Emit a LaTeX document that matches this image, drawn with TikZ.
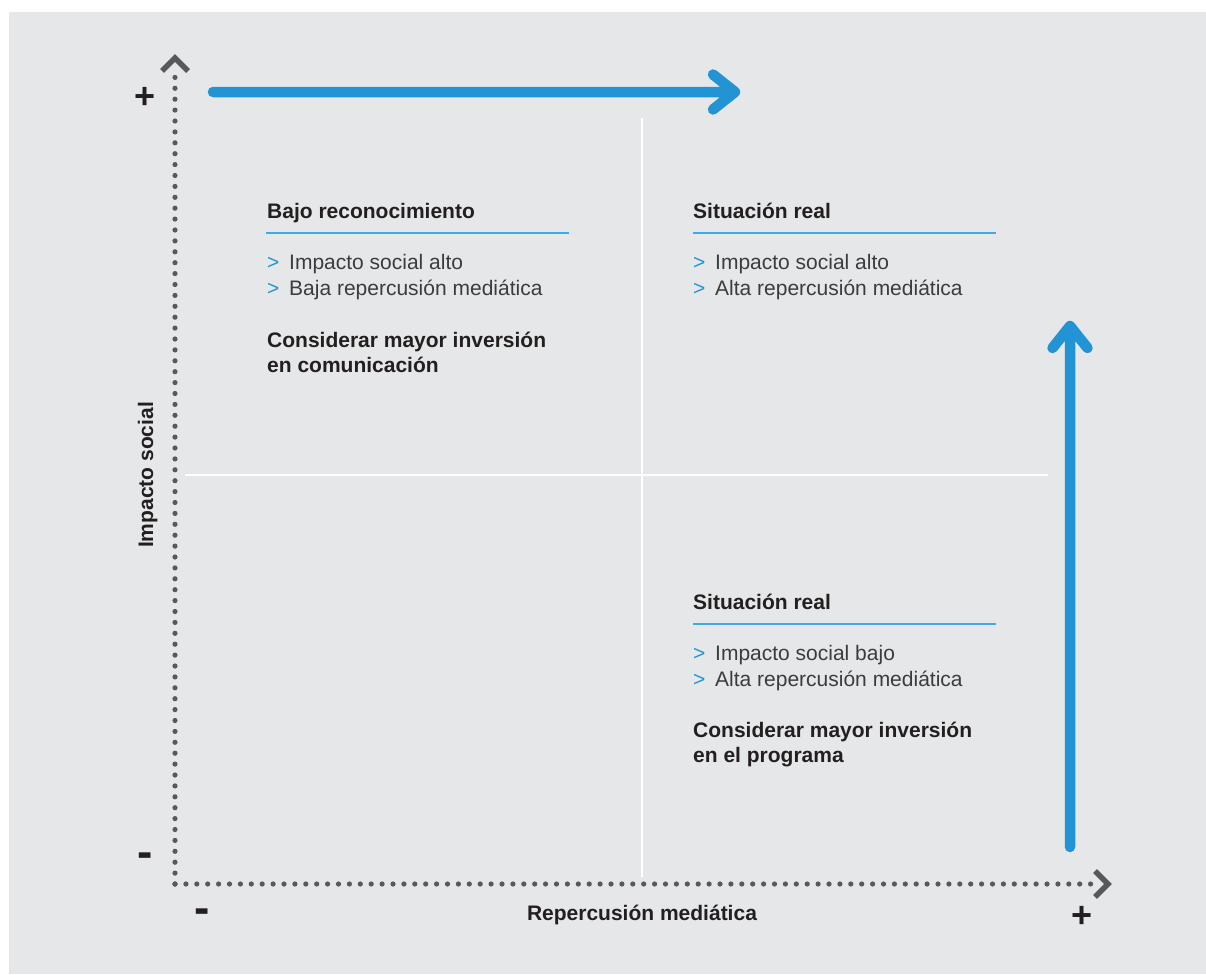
\documentclass[tikz,border=0pt]{standalone}
\usepackage{fontspec}
\setmainfont{Liberation Sans}
\definecolor{fondo}{HTML}{E6E7E8}
\definecolor{ejes}{HTML}{58595B}
\definecolor{azul}{HTML}{2394D3}
\definecolor{azulclaro}{HTML}{45A8DE}
\definecolor{texto}{HTML}{231F20}
\definecolor{cuerpo}{HTML}{3C3C3E}
\tikzset{
	titulo/.style={anchor=base west,inner sep=0pt,font=\fontsize{21}{26}\selectfont\bfseries,text=texto},
	punto/.style={anchor=base west,inner sep=0pt,font=\fontsize{21}{26}\selectfont,text=cuerpo},
	etiqueta/.style={anchor=base,inner sep=0pt,font=\fontsize{21}{26}\selectfont\bfseries,text=texto},
	signo/.style={inner sep=0pt,font=\fontsize{36}{36}\selectfont\bfseries,text=texto},
	menos/.style={inner sep=0pt,font=\fontsize{46}{46}\selectfont\bfseries,text=texto},
	regla/.style={azulclaro,line width=1.5pt},
	eje/.style={ejes,line width=5.2pt,line cap=round,dash pattern=on 0pt off 10.9pt},
	punta/.style={ejes,line width=5.6pt,line join=miter},
	flecha/.style={azul,line width=10.5pt,line cap=round,line join=round},
	cruz/.style={white,line width=2.5pt}
}
\newcommand{\mayor}{\makebox[22pt][l]{\textcolor{azul}{>}}}
\begin{document}
\begin{tikzpicture}[x=1pt,y=-1pt]
	\useasboundingbox (0,0) rectangle (1206,974);
	\fill[fondo] (9,12) rectangle (1206,974);
	% cruz blanca
	\draw[cruz] (642,118) to (642,877);
	\draw[cruz] (185,475) to (1048,475);
	% ejes punteados
	\coordinate (O) at (175,884);
	\coordinate (ytop) at (175,58);
	\coordinate (xend) at (1108,884);
	\draw[eje] (O) to (175,68);
	\draw[eje] (O) to (1100,884);
	\draw[punta] (ytop) ++(-13,13) to ++(13,-13) to ++(13,13);
	\draw[punta] (xend) ++(-13,-13) to ++(13,13) to ++(-13,13);
	\node[signo] (ymas) at (145,98) {+};
	\node[menos] (ymenos) at (145,860) {-};
	\node[menos] (xmenos) at (202,916) {-};
	\node[signo] (xmas) at (1082,917) {+};
	\node[etiqueta,rotate=90] (yetiq) at (153,475) {Impacto social};
	\node[etiqueta] (xetiq) at (642,920) {Repercusión mediática};
	% flechas azules
	\coordinate (h1) at (213,92);
	\coordinate (h2) at (735,92);
	\draw[flecha] (h1) to (h2) to ++(-22,-17.5) (h2) to ++(-22,17.5);
	\coordinate (v1) at (1070,847);
	\coordinate (v2) at (1070,326);
	\draw[flecha] (v1) to (v2) to ++(-17.5,22) (v2) to ++(17.5,22);
	% cuadrante superior izquierdo
	\node[titulo] (bajo) at (267,218) {Bajo reconocimiento};
	\draw[regla] (266,233) to (569,233);
	\node[punto] (bajoa) at (267,269) {\mayor Impacto social alto};
	\node[punto] (bajob) at (267,295) {\mayor Baja repercusión mediática};
	\node[titulo] (bajoc) at (267,347) {Considerar mayor inversión};
	\node[titulo] (bajod) at (267,372) {en comunicación};
	% cuadrante superior derecho
	\node[titulo] (real) at (693,218) {Situación real};
	\draw[regla] (693,233) to (996,233);
	\node[punto] (reala) at (693,269) {\mayor Impacto social alto};
	\node[punto] (realb) at (693,295) {\mayor Alta repercusión mediática};
	% cuadrante inferior derecho
	\node[titulo] (realbajo) at (693,609) {Situación real};
	\draw[regla] (693,624) to (996,624);
	\node[punto] (realbajoa) at (693,660) {\mayor Impacto social bajo};
	\node[punto] (realbajob) at (693,686) {\mayor Alta repercusión mediática};
	\node[titulo] (realbajoc) at (693,737) {Considerar mayor inversión};
	\node[titulo] (realbajod) at (693,762) {en el programa};
\end{tikzpicture}
\end{document}
